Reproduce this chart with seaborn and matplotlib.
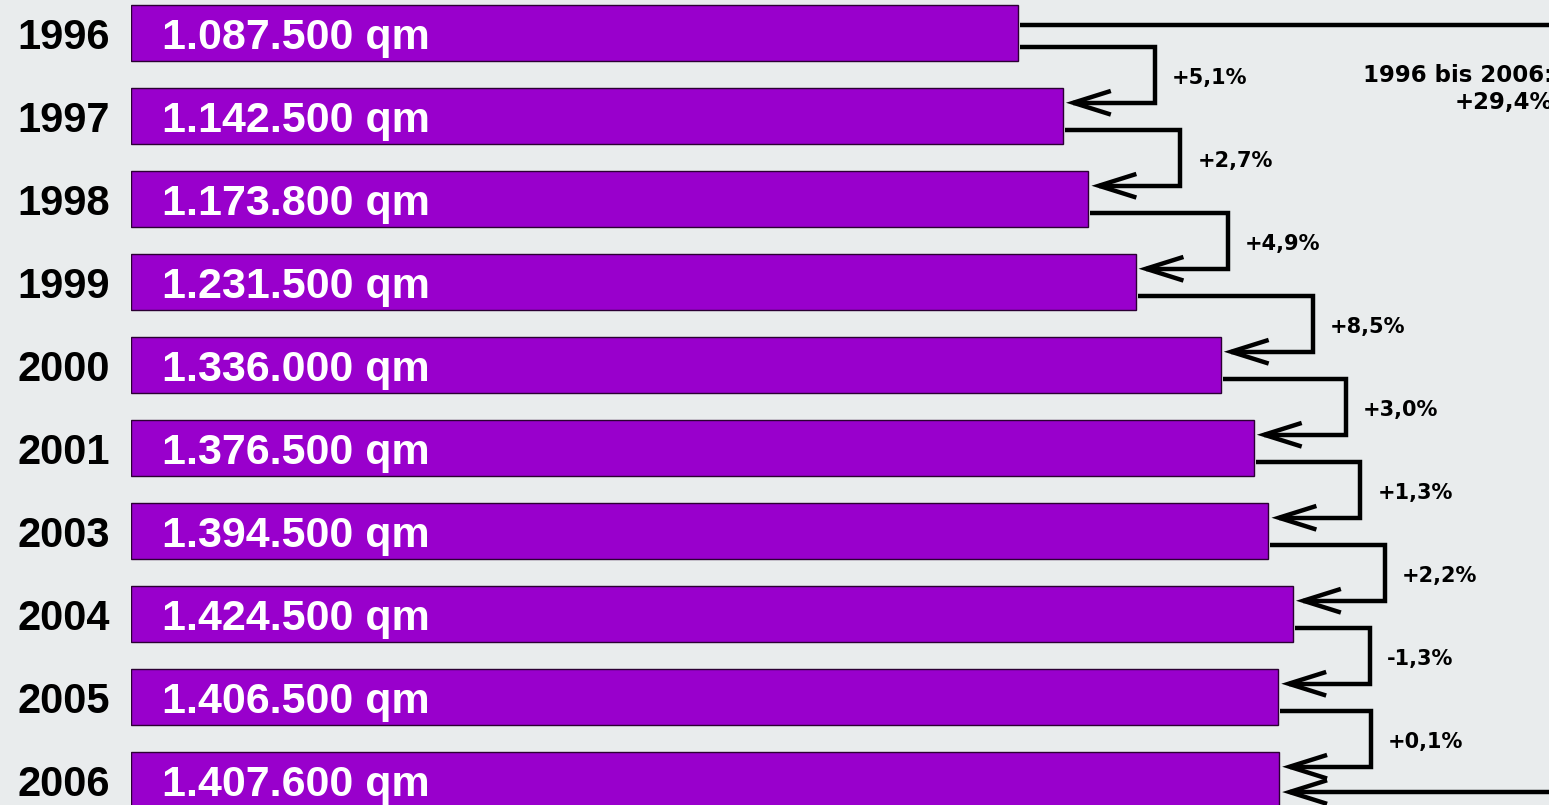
import numpy as np
import pandas as pd
import matplotlib
matplotlib.use("Agg")
import matplotlib.pyplot as plt
import seaborn as sns
from matplotlib.patches import FancyArrowPatch, ArrowStyle
from matplotlib.path import Path

# ---------------- data ----------------
years = ["1996", "1997", "1998", "1999", "2000", "2001", "2003", "2004", "2005", "2006"]
area_qm = [1087500, 1142500, 1173800, 1231500, 1336000, 1376500, 1394500, 1424500, 1406500, 1407600]
value_labels = ["1.087.500 qm", "1.142.500 qm", "1.173.800 qm", "1.231.500 qm", "1.336.000 qm",
                "1.376.500 qm", "1.394.500 qm", "1.424.500 qm", "1.406.500 qm", "1.407.600 qm"]
change_labels = ["+5,1%", "+2,7%", "+4,9%", "+8,5%", "+3,0%", "+1,3%", "+2,2%", "-1,3%", "+0,1%"]
total_label = "1996 bis 2006:\n+29,4%"

# ---------------- style ----------------
BG = "#E9ECED"
BAR = "#9900CC"
sns.set_theme(style="white")
plt.rcParams["font.family"] = ["Liberation Sans", "DejaVu Sans"]

W, H, DPI = 1549, 805, 100
fig = plt.figure(figsize=(W / DPI, H / DPI), dpi=DPI, facecolor=BG)
ax_left_px = 131
ax = fig.add_axes([ax_left_px / W, 0, (W - ax_left_px) / W, 1])
ax.set_facecolor(BG)

df = pd.DataFrame({"year": years, "area": area_qm})
sns.barplot(data=df, x="area", y="year", orient="h", color=BAR, saturation=1,
            width=0.675, edgecolor="#2b0033", linewidth=1.0, ax=ax)

XMAX = 1738400
ax.set_xlim(0, XMAX)
ax.set_ylim(9.301, -0.398)
for s in ax.spines.values():
    s.set_visible(False)
ax.set_xticks([])
ax.set_xlabel("")
ax.set_ylabel("")
ax.tick_params(axis="y", length=0, pad=15)
for lab in ax.get_yticklabels():
    lab.set_fontsize(30)
    lab.set_fontweight("bold")
    lab.set_color("black")

upx = XMAX / (W - ax_left_px)  # data units per pixel (x)

# value labels inside bars
for i, txt in enumerate(value_labels):
    ax.annotate(txt, xy=(0, i), xycoords="data", xytext=(22.3, -11.5),
                textcoords="offset points", ha="left", va="baseline",
                fontsize=31, fontweight="bold", color="white")

# connectors between consecutive years
style = ArrowStyle("->", head_length=27, head_width=8.5)
for i, lab in enumerate(change_labels):
    xv = area_qm[i + 1] + 92 * upx
    y0 = i + 0.163
    y1 = i + 1 - 0.16
    verts = [(area_qm[i] + 2 * upx, y0), (xv, y0), (xv, y1), (area_qm[i + 1] + 3 * upx, y1)]
    p = Path(verts, [Path.MOVETO, Path.LINETO, Path.LINETO, Path.LINETO])
    arr = FancyArrowPatch(path=p, arrowstyle=style, mutation_scale=1, lw=3.2,
                          color="black", joinstyle="miter", capstyle="butt")
    ax.add_patch(arr)
    ax.text(xv + 17 * upx, i + 0.5 + 0.115, lab, ha="left", va="baseline",
            fontsize=15, fontweight="bold", family=["DejaVu Sans"], color="black")

# overall connector 1996 -> 2006
xbig = XMAX * 1.05
yb0 = 0 - 0.096
yb1 = 9 + 0.145
verts = [(area_qm[0] + 2 * upx, yb0), (xbig, yb0), (xbig, yb1), (area_qm[-1] + 3 * upx, yb1)]
p = Path(verts, [Path.MOVETO, Path.LINETO, Path.LINETO, Path.LINETO])
ax.add_patch(FancyArrowPatch(path=p, arrowstyle=style, mutation_scale=1, lw=3.2,
                             color="black", joinstyle="miter", capstyle="butt"))

fig.text(1553 / W, 1 - 109 / H, total_label, ha="right", va="baseline", multialignment="right",
         fontsize=16.5, fontweight="bold", family=["DejaVu Sans"], color="black",
         linespacing=1.25)

fig.savefig("out.png", dpi=DPI, facecolor=BG)
